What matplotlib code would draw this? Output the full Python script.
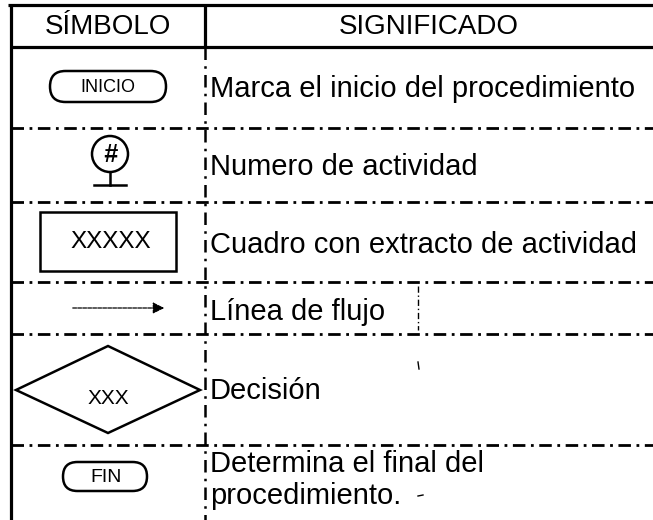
import matplotlib.pyplot as plt
from matplotlib.patches import FancyBboxPatch, Rectangle, Polygon, Circle

"""
tabla de simbologia del diagrama de flujo (escaneada)
coordenadas en pixeles, y hacia abajo
"""

headers = ["SÍMBOLO", "SIGNIFICADO"]
symbol_labels = ["INICIO", "#", "XXXXX", "", "XXX", "FIN"]
meanings = [
    ["Marca el inicio del procedimiento"],
    ["Numero de actividad"],
    ["Cuadro con extracto de actividad"],
    ["Línea de flujo"],
    ["Decisión"],
    ["Determina el final del", "procedimiento."],
]

W, H = 653, 520
LEFT, MID, RIGHT = 11, 205, 653
TOP, HEAD = 5, 47
row_lines = [128, 202, 282, 334, 445]
text_baselines = [[97], [175], [253], [320], [399], [472, 504]]

FONT = "Liberation Sans"
dashdot = (0, (4.5, 2, 1, 2))

fig = plt.figure(figsize=(W / 100, H / 100), dpi=100)
ax = fig.add_axes([0, 0, 1, 1])
ax.set_xlim(0, W)
ax.set_ylim(H, 0)
ax.axis("off")

# marco solido
ax.plot([8, RIGHT], [TOP, TOP], color="black", lw=2.3, solid_capstyle="butt")
ax.plot([LEFT, LEFT], [TOP, H], color="black", lw=2.3, solid_capstyle="butt")
ax.plot([LEFT, RIGHT], [HEAD, HEAD], color="black", lw=2.3, solid_capstyle="butt")
ax.plot([MID, MID], [TOP, HEAD], color="black", lw=2.3, solid_capstyle="butt")

# lineas punteadas
ax.plot([MID, MID], [HEAD, H], color="black", lw=1.8, linestyle=(0, (5, 2.5, 1, 2.5)))
for y in row_lines:
    ax.plot([LEFT, RIGHT], [y, y], color="black", lw=2.0, linestyle=dashdot)

# encabezados
ax.text((LEFT + MID) / 2, 27, headers[0], fontsize=20, family=FONT,
        ha="center", va="center")
ax.text((MID + RIGHT) / 2, 27, headers[1], fontsize=20, family=FONT,
        ha="center", va="center")

# significados
for lines_, ys in zip(meanings, text_baselines):
    for s, y in zip(lines_, ys):
        ax.text(210, y, s, fontsize=21, family=FONT, ha="left", va="baseline")

# simbolos
# inicio
ax.add_patch(FancyBboxPatch((50, 71), 116, 31,
                            boxstyle="round,pad=0,rounding_size=15.5",
                            fc="white", ec="black", lw=1.8))
ax.text(108, 87, symbol_labels[0], fontsize=13, family=FONT,
        ha="center", va="center")

# numero de actividad
ax.add_patch(Circle((110, 154), 18, fc="white", ec="black", lw=1.8))
ax.text(110, 155, symbol_labels[1], fontsize=18, family=FONT, fontweight="bold",
        style="italic", ha="center", va="center")
ax.plot([110, 110], [172, 185], color="black", lw=1.8)
ax.plot([94, 126], [185, 185], color="black", lw=1.8)

# cuadro
ax.add_patch(Rectangle((40, 212), 136, 59, fc="white", ec="black", lw=1.8))
ax.text(111, 242, symbol_labels[2], fontsize=17.5, family=FONT,
        ha="center", va="center")

# flecha
ax.annotate("", xy=(167, 308), xytext=(70, 308),
            arrowprops=dict(arrowstyle="-|>", lw=0.9, color="black",
                            mutation_scale=17, linestyle=(0, (3, 1))))

# decision
ax.add_patch(Polygon([(16, 390), (108, 346), (200, 390), (108, 433)],
                     closed=True, fc="white", ec="black", lw=1.8))
ax.text(108, 398, symbol_labels[4], fontsize=15, family=FONT,
        ha="center", va="center")

# fin
ax.add_patch(FancyBboxPatch((63, 462), 84, 29,
                            boxstyle="round,pad=0,rounding_size=14.5",
                            fc="white", ec="black", lw=1.8))
ax.text(106, 477, symbol_labels[5], fontsize=14, family=FONT,
        ha="center", va="center")

# marcas del escaneo
ax.plot([418, 418], [286, 330], color="black", lw=1.0, linestyle=dashdot)
ax.plot([418, 419], [362, 369], color="black", lw=1.0)
ax.plot([418, 423], [496, 495], color="black", lw=1.0)

fig.savefig("out.png", dpi=100)
plt.close(fig)
